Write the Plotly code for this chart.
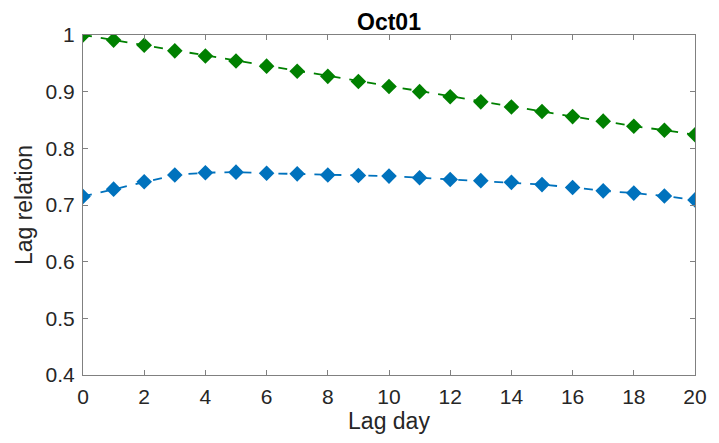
import plotly.graph_objects as go

lag_days = list(range(21))
green_vals = [1.0, 0.991, 0.982, 0.972, 0.963, 0.954, 0.945, 0.936, 0.927, 0.918, 0.909,
              0.900, 0.891, 0.882, 0.873, 0.865, 0.856, 0.848, 0.839, 0.832, 0.824]
blue_vals = [0.715, 0.728, 0.741, 0.753, 0.757, 0.758, 0.756, 0.755, 0.753, 0.752, 0.751,
             0.748, 0.745, 0.743, 0.740, 0.736, 0.731, 0.725, 0.721, 0.716, 0.709]
x_ticks = list(range(0, 21, 2))
y_ticks = [0.4, 0.5, 0.6, 0.7, 0.8, 0.9, 1.0]
y_tick_labels = ["0.4", "0.5", "0.6", "0.7", "0.8", "0.9", "1"]

FONT = "Liberation Sans, Arial"

fig = go.Figure()
fig.add_trace(go.Scatter(x=lag_days, y=green_vals, mode="lines+markers",
                         line=dict(color="#008000", width=1.8, dash="dash"),
                         marker=dict(symbol="diamond", size=12, color="#008000"),
                         showlegend=False))
fig.add_trace(go.Scatter(x=lag_days, y=blue_vals, mode="lines+markers",
                         line=dict(color="#0072BD", width=1.8, dash="dash"),
                         marker=dict(symbol="diamond", size=12, color="#0072BD"),
                         showlegend=False))

axis_common = dict(showline=True, linecolor="#808080", linewidth=1, mirror="ticks",
                   ticks="inside", ticklen=5, tickcolor="#808080", showgrid=False,
                   zeroline=False, tickfont=dict(family=FONT, size=21, color="#262626"))

fig.update_layout(
    width=719, height=443,
    margin=dict(l=83, r=19, t=35, b=68),
    plot_bgcolor="white", paper_bgcolor="white",
    title=dict(text="<b>Oct01</b>", x=0.5, xanchor="center", xref="paper",
               y=1, yref="paper", yanchor="bottom", pad=dict(b=5),
               font=dict(family=FONT, size=23, color="black")),
    xaxis=dict(range=[0, 20], tickvals=x_ticks, ticklabelstandoff=3,
               title=dict(text="Lag day", font=dict(family=FONT, size=23, color="#262626"), standoff=4),
               **axis_common),
    yaxis=dict(range=[0.4, 1.0], tickvals=y_ticks, ticktext=y_tick_labels, ticklabelstandoff=3,
               title=dict(text="Lag relation", font=dict(family=FONT, size=23, color="#262626"), standoff=6),
               **axis_common),
)

fig.write_html("out.html")
